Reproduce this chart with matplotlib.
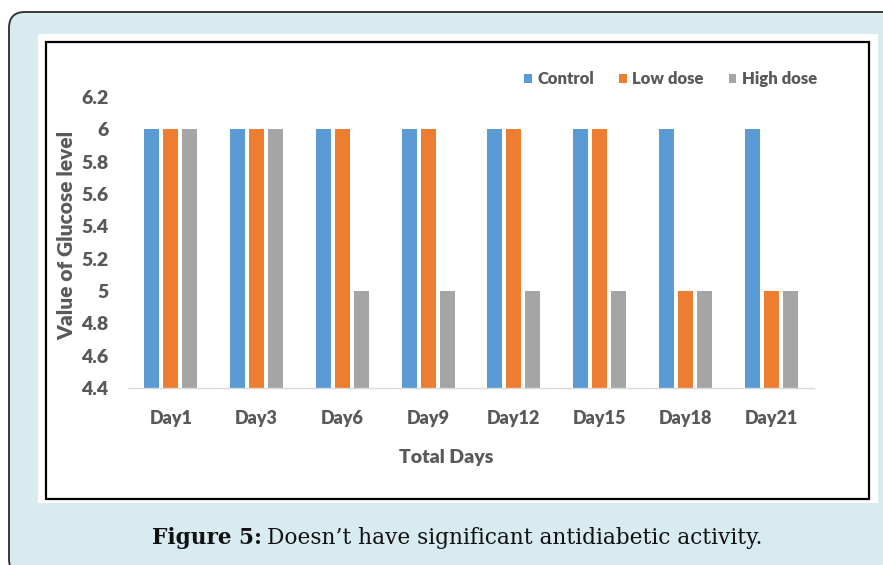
import matplotlib
matplotlib.use("Agg")
import matplotlib.pyplot as plt
import numpy as np
from matplotlib.patches import FancyBboxPatch, Rectangle
from matplotlib.transforms import IdentityTransform

days = ["Day1", "Day3", "Day6", "Day9", "Day12", "Day15", "Day18", "Day21"]
control = [6, 6, 6, 6, 6, 6, 6, 6]
low_dose = [6, 6, 6, 6, 6, 6, 5, 5]
high_dose = [6, 6, 5, 5, 5, 5, 5, 5]
y_ticks = [4.4, 4.6, 4.8, 5.0, 5.2, 5.4, 5.6, 5.8, 6.0, 6.2]
y_tick_labels = ["4.4", "4.6", "4.8", "5", "5.2", "5.4", "5.6", "5.8", "6", "6.2"]

W, H = 883, 565
DPI = 100
fig = plt.figure(figsize=(W / DPI, H / DPI), dpi=DPI, facecolor="white")

def disp(x, y_top):
    """pixel position measured from top-left -> display coords"""
    return x, H - y_top

def fpos(x, y_top):
    return x / W, 1 - y_top / H

# outer rounded frame
x0, y0 = disp(9, 575)
outer = FancyBboxPatch((x0, y0), 900 - 9, 575 - 12,
                       boxstyle="round,pad=0,rounding_size=16",
                       transform=IdentityTransform(), facecolor="#d7ebf0",
                       edgecolor="#2b2b2b", linewidth=1.3, zorder=0)
fig.patches.append(outer)

# white chart panel
x0, y0 = disp(38, 503)
fig.patches.append(Rectangle((x0, y0), 878 - 38, 503 - 34, transform=IdentityTransform(),
                             facecolor="white", edgecolor="none", zorder=0.5))
# black chart border
x0, y0 = disp(46, 499)
fig.patches.append(Rectangle((x0, y0), 869 - 46, 499 - 42, transform=IdentityTransform(),
                             facecolor="none", edgecolor="black", linewidth=1.6, zorder=0.6))

# plot axes
left, right, top, bottom = 128, 814, 97, 388
ax = fig.add_axes([left / W, 1 - bottom / H, (right - left) / W, (bottom - top) / H])
ax.set_zorder(2)
ax.set_facecolor("none")

txt = "#595959"
font = "Lato"
wt = "heavy"
x = np.arange(len(days))
bw = 0.175
off = 0.222
ax.bar(x - off, control, bw, color="#5b9bd5", label="Control", zorder=2)
ax.bar(x, low_dose, bw, color="#ed7d31", label="Low dose", zorder=2)
ax.bar(x + off, high_dose, bw, color="#a5a5a5", label="High dose", zorder=2)

ax.set_xlim(-0.5, len(days) - 0.5)
ax.set_ylim(4.4, 6.2)
ax.set_yticks(y_ticks)
ax.set_yticklabels(y_tick_labels)
ax.set_xticks(x)
ax.set_xticklabels(days)
for s in ["top", "right", "left"]:
    ax.spines[s].set_visible(False)
ax.spines["bottom"].set_color("#d9d9d9")
ax.spines["bottom"].set_linewidth(1.0)
ax.tick_params(axis="both", length=0, colors=txt)
ax.tick_params(axis="y", pad=14, labelsize=14)
ax.tick_params(axis="x", pad=16, labelsize=13)
for lab in ax.get_xticklabels() + ax.get_yticklabels():
    lab.set_fontfamily(font)
    lab.set_fontweight(wt)

# axis titles
fig.text(*fpos(67, 235), "Value of Glucose level", rotation=90, ha="center", va="center",
         fontsize=15, fontweight=wt, color=txt, fontfamily=font)
fig.text(*fpos(446, 457), "Total Days", ha="center", va="center",
         fontsize=14, fontweight=wt, color=txt, fontfamily=font)

leg = ax.legend(ncol=3, frameon=False, loc="center left",
                bbox_to_anchor=fpos(524, 79), bbox_transform=fig.transFigure,
                prop={"family": font, "weight": wt, "size": 12},
                handlelength=0.45, handleheight=0.45, handletextpad=0.35,
                columnspacing=1.5, borderaxespad=0, borderpad=0)
for t in leg.get_texts():
    t.set_color(txt)

# caption
cap_y = 1 - 538 / H
t1 = fig.text(152 / W, cap_y, "Figure 5:", fontsize=15.6, fontweight="bold",
              fontfamily="DejaVu Serif", color="#111111", va="center", ha="left")
fig.canvas.draw()
bb = t1.get_window_extent()
fig.text((bb.x1 + 5) / W, cap_y, "Doesn\u2019t have significant antidiabetic activity.",
         fontsize=15.6, fontfamily="DejaVu Serif", color="#111111", va="center", ha="left")

fig.savefig("out.png", dpi=DPI, facecolor="white")
